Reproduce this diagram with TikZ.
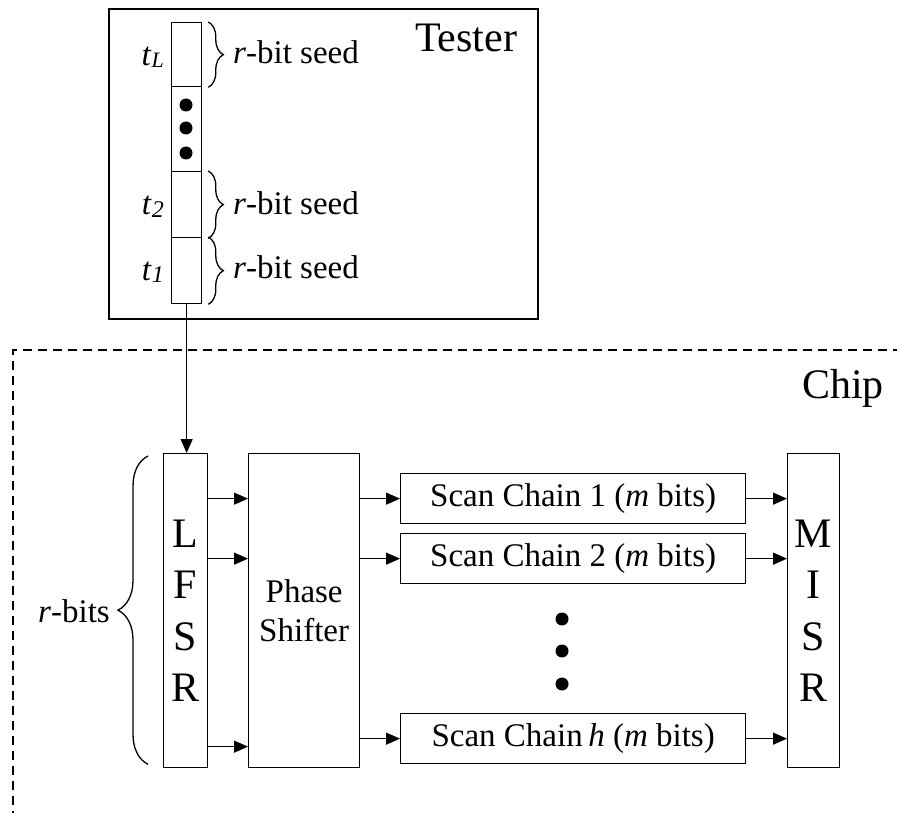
\documentclass[tikz,border=0pt]{standalone}
\usepackage{fontspec}
\setmainfont{Liberation Serif}
\usetikzlibrary{arrows.meta,decorations.pathreplacing,calc}
\begin{document}
\begin{tikzpicture}[x=1pt,y=-1pt,
  box/.style={draw, line width=1.3pt, inner sep=0pt, anchor=north west},
  arr/.style={-{Triangle[length=14pt,width=12pt]}, line width=1.3pt},
  sm/.style={font=\fontsize{33}{39}\selectfont},
  big/.style={font=\fontsize{42}{51.5}\selectfont},
  brc/.style={decorate, decoration={brace, amplitude=#1}, line width=1.3pt},
  blob/.style={fill=black, circle, inner sep=0pt, minimum size=13pt},
  chipline/.style={line width=2pt, dash pattern=on 9pt off 6pt},
  lbl/.style={sm, anchor=base west, inner sep=0pt},
]
\useasboundingbox (0,0) rectangle (897,813);

% ---------- Tester ----------
\node[box, line width=2pt, minimum width=429pt, minimum height=310pt] (tester) at (108,8) {};
\node[big, anchor=base west, inner sep=0pt] (testerlbl) at (415,52) {Tester};

\node[box, minimum width=30pt, minimum height=64pt] (cL) at (171,22) {};
\node[box, minimum width=30pt, minimum height=85pt] (cD) at (171,86) {};
\node[box, minimum width=30pt, minimum height=66pt] (c2) at (171,171) {};
\node[box, minimum width=30pt, minimum height=66pt] (c1) at (171,237) {};

\node[blob] (td1) at (186,105) {};
\node[blob] (td2) at (186,128) {};
\node[blob] (td3) at (186,153) {};

\node[sm, anchor=base east, inner sep=0pt] (tL) at (164,66) {\textit{t}\raisebox{-2pt}{\fontsize{22}{22}\selectfont\textit{L}}};
\node[sm, anchor=base east, inner sep=0pt] (t2) at (164,215) {\textit{t}\raisebox{-2pt}{\fontsize{24}{24}\selectfont\textit{2}}};
\node[sm, anchor=base east, inner sep=0pt] (t1) at (164,280) {\textit{t}\raisebox{-2pt}{\fontsize{24}{24}\selectfont\textit{1}}};

\draw[brc=15pt] ([xshift=6pt]cL.north east) -- ([xshift=6pt]cL.south east);
\draw[brc=15pt] ([xshift=6pt]c2.north east) -- ([xshift=6pt]c2.south east);
\draw[brc=15pt] ([xshift=6pt]c1.north east) -- ([xshift=6pt]c1.south east);

\node[lbl] (sL) at (233,64) {\textit{r}-bit seed};
\node[lbl] (s2) at (233,215) {\textit{r}-bit seed};
\node[lbl] (s1) at (233,279) {\textit{r}-bit seed};

% ---------- Chip ----------
\draw[chipline] (13,820) -- (13,350) -- (905,350);
\node[big, anchor=base west, inner sep=0pt] (chiplbl) at (802,398) {Chip};

\node[box, big, align=center, minimum width=44pt, minimum height=314pt] (lfsr) at (163,453) {L\\F\\S\\R};
\node[box, sm, align=center, minimum width=111pt, minimum height=314pt] (ps) at (248,453) {Phase\\Shifter};
\node[box, big, align=center, minimum width=52pt, minimum height=314pt] (misr) at (787,453) {M\\I\\S\\R};

\node[box, sm, minimum width=345pt, minimum height=50pt] (sc1) at (400,473) {};
\node[sm] at (sc1.center) {Scan Chain 1 (\textit{m} bits)};
\node[box, sm, minimum width=345pt, minimum height=50pt] (sc2) at (400,533) {};
\node[sm] at (sc2.center) {Scan Chain 2 (\textit{m} bits)};
\node[box, sm, minimum width=345pt, minimum height=50pt] (sch) at (400,713) {};
\node[sm] at (sch.center) {Scan Chain\,\textit{h} (\textit{m} bits)};

\node[blob] (cd1) at (562,619) {};
\node[blob] (cd2) at (562,651) {};
\node[blob] (cd3) at (562,684) {};

% brace r-bits
\draw[brc=30pt] ([xshift=-15pt,yshift=4pt]lfsr.south west) -- ([xshift=-15pt,yshift=-3pt]lfsr.north west);
\node[sm, anchor=base east, inner sep=0pt] (rbits) at (110,622) {\textit{r}-bits};

% connectors
\draw[arr] (c1.south) -- (c1.south |- lfsr.north);

\draw[arr] (lfsr.east |- sc1.west) -- (ps.west |- sc1.west);
\draw[arr] (lfsr.east |- sc2.west) -- (ps.west |- sc2.west);
\draw[arr] ($(lfsr.east |- sch.west)+(0,8)$) -- ($(ps.west |- sch.west)+(0,8)$);

\draw[arr] (ps.east |- sc1.west) -- (sc1.west);
\draw[arr] (ps.east |- sc2.west) -- (sc2.west);
\draw[arr] (ps.east |- sch.west) -- (sch.west);

\draw[arr] (sc1.east) -- (misr.west |- sc1.east);
\draw[arr] (sc2.east) -- (misr.west |- sc2.east);
\draw[arr] (sch.east) -- (misr.west |- sch.east);
\end{tikzpicture}
\end{document}
